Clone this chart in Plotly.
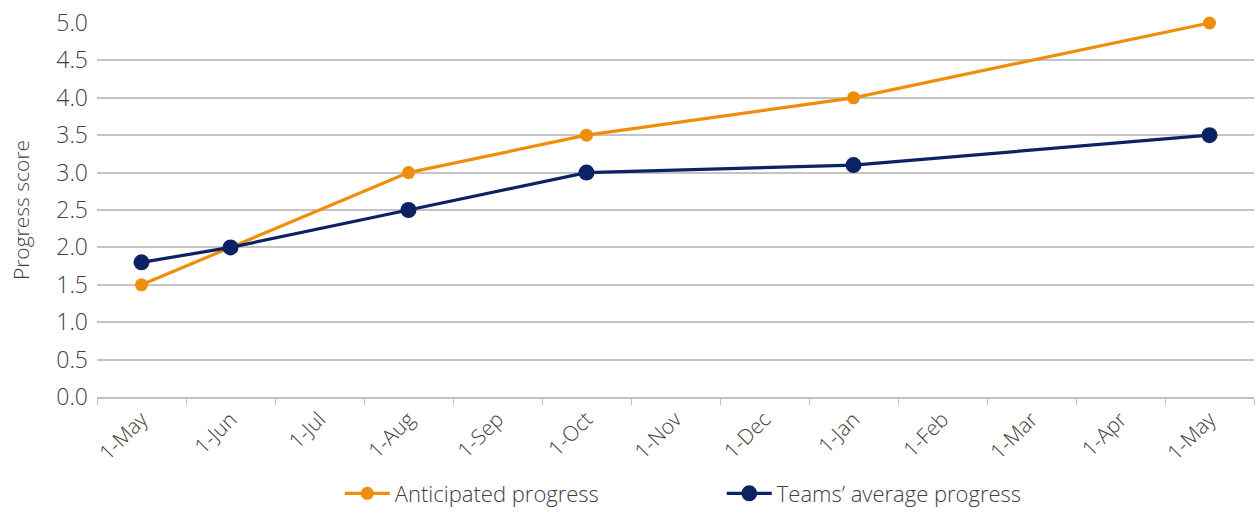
import plotly.graph_objects as go

cat_ids = ["May-19", "Jun-19", "Jul-19", "Aug-19", "Sep-19", "Oct-19", "Nov-19",
           "Dec-19", "Jan-20", "Feb-20", "Mar-20", "Apr-20", "May-20"]
tick_labels = ["1-May", "1-Jun", "1-Jul", "1-Aug", "1-Sep", "1-Oct", "1-Nov",
               "1-Dec", "1-Jan", "1-Feb", "1-Mar", "1-Apr", "1-May"]
anticipated = [1.5, 2.0, None, 3.0, None, 3.5, None, None, 4.0, None, None, None, 5.0]
teams_avg = [1.8, 2.0, None, 2.5, None, 3.0, None, None, 3.1, None, None, None, 3.5]

ORANGE = "#EE8E0B"
NAVY = "#0B2362"
FONT = "Open Sans"
TXT = "#404040"

fig = go.Figure()
fig.add_trace(go.Scatter(x=cat_ids, y=anticipated, name="Anticipated progress",
                         mode="lines+markers", connectgaps=True, cliponaxis=False,
                         line=dict(color=ORANGE, width=3.2),
                         marker=dict(color=ORANGE, size=13)))
fig.add_trace(go.Scatter(x=cat_ids, y=teams_avg, name="Teams\u2019 average progress",
                         mode="lines+markers", connectgaps=True, cliponaxis=False,
                         line=dict(color=NAVY, width=3.2),
                         marker=dict(color=NAVY, size=16)))

fig.update_layout(
    width=1257, height=513,
    margin=dict(l=97, r=3, t=23, b=116),
    plot_bgcolor="white", paper_bgcolor="white",
    font=dict(family=FONT, color=TXT, size=20, weight=300),
    showlegend=True,
    legend=dict(orientation="h", x=0.54, xanchor="center",
                yref="container", y=0.038, yanchor="middle",
                font=dict(size=22, family=FONT, color=TXT, weight=300),
                itemwidth=45, entrywidth=322, traceorder="normal"),
    xaxis=dict(type="category", categoryorder="array", categoryarray=cat_ids,
               tickvals=cat_ids, ticktext=tick_labels, tickangle=-45,
               tickson="boundaries", ticks="outside", ticklen=6, tickcolor="#bfbfbf",
               showline=True, linecolor="#bfbfbf", linewidth=1.5,
               showgrid=False, tickfont=dict(size=21, color=TXT),
               range=[-0.5, 12.5], automargin=False),
    yaxis=dict(range=[0, 5], dtick=0.5, tickformat=".1f",
               showgrid=True, gridcolor="#c4c4c4", gridwidth=1.5,
               zeroline=False, showline=False,
               ticks="", ticklabelstandoff=8, automargin=False,
               tickfont=dict(size=23, color=TXT),
               title=dict(text="Progress score", standoff=20,
                          font=dict(size=21, color=TXT))),
)

fig.write_html(
    "out.html",
    config={"displayModeBar": False, "responsive": False},
    post_script=(
        "document.documentElement.style.margin='0';"
        "document.body.style.margin='0';"
        "document.body.style.overflow='hidden';"
        "var gd=document.getElementById('{plot_id}');"
        "gd.style.width='1257px';gd.style.height='513px';"
        "Plotly.relayout(gd, {width: 1257, height: 513, autosize: false});"
    ),
)
